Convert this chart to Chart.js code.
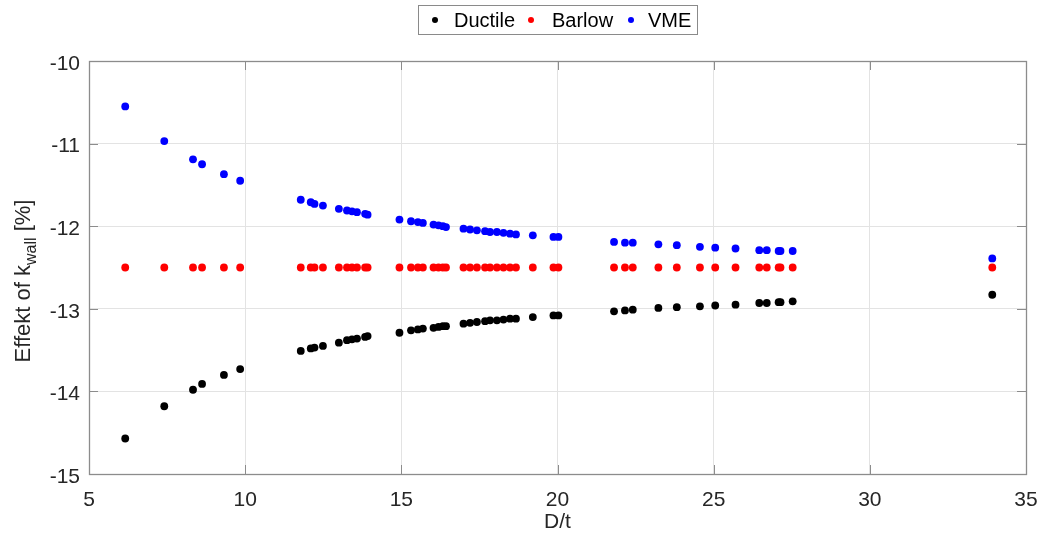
<!DOCTYPE html>
<html>
<head>
<meta charset="utf-8">
<script src="https://cdn.jsdelivr.net/npm/chart.js@4.4.0/dist/chart.umd.min.js"></script>
<style>
  html, body { margin: 0; padding: 0; background: #fff; }
  #wrap { width: 1043px; height: 540px; }
</style>
</head>
<body>
<div id="wrap"><canvas id="myChart" width="1043" height="540"></canvas></div>
<script>
// D/t values, shared by all three series
const dt = [6.16, 7.41, 8.33, 8.62, 9.32, 9.84,
  11.78, 12.10, 12.22, 12.49, 13.00, 13.26, 13.42, 13.58, 13.84, 13.92,
  14.94, 15.31, 15.53, 15.69, 16.03, 16.19, 16.33, 16.43,
  16.99, 17.20, 17.42, 17.68, 17.84, 18.06, 18.27, 18.48, 18.67,
  19.21, 19.87, 20.03, 21.81, 22.16, 22.41, 23.23, 23.82, 24.56, 25.05, 25.70,
  26.46, 26.70, 27.08, 27.14, 27.53, 33.92];

const ductile = [-14.57, -14.18, -13.98, -13.91, -13.80, -13.73,
  -13.51, -13.48, -13.47, -13.45, -13.41, -13.38, -13.37, -13.36, -13.34, -13.33,
  -13.29, -13.26, -13.25, -13.24, -13.23, -13.22, -13.21, -13.21,
  -13.18, -13.17, -13.16, -13.15, -13.14, -13.14, -13.13, -13.12, -13.12,
  -13.10, -13.08, -13.08, -13.03, -13.02, -13.01, -12.99, -12.98, -12.97, -12.96, -12.95,
  -12.93, -12.93, -12.92, -12.92, -12.91, -12.83];

const barlow = [-12.5, -12.5, -12.5, -12.5, -12.5, -12.5,
  -12.5, -12.5, -12.5, -12.5, -12.5, -12.5, -12.5, -12.5, -12.5, -12.5,
  -12.5, -12.5, -12.5, -12.5, -12.5, -12.5, -12.5, -12.5,
  -12.5, -12.5, -12.5, -12.5, -12.5, -12.5, -12.5, -12.5, -12.5,
  -12.5, -12.5, -12.5, -12.5, -12.5, -12.5, -12.5, -12.5, -12.5, -12.5, -12.5,
  -12.5, -12.5, -12.5, -12.5, -12.5, -12.5];

const vme = [-10.55, -10.97, -11.19, -11.25, -11.37, -11.45,
  -11.68, -11.71, -11.73, -11.75, -11.79, -11.81, -11.82, -11.83, -11.85, -11.86,
  -11.92, -11.94, -11.95, -11.96, -11.98, -11.99, -12.00, -12.01,
  -12.03, -12.04, -12.05, -12.06, -12.07, -12.07, -12.08, -12.09, -12.10,
  -12.11, -12.13, -12.13, -12.19, -12.20, -12.20, -12.22, -12.23, -12.25, -12.26, -12.27,
  -12.29, -12.29, -12.30, -12.30, -12.30, -12.39];

const seriesNames = ['Ductile', 'Barlow', 'VME'];
const seriesColors = ['#000000', '#ff0000', '#0000ff'];
const xTicks = [5, 10, 15, 20, 25, 30, 35];
const yTicks = [-15, -14, -13, -12, -11, -10];

const FONT = '"Liberation Sans", Arial, Helvetica, sans-serif';
const BOX = '#8c8c8c';

const toPoints = (ys) => ys.map((y, i) => ({ x: dt[i], y: y }));

// box, inside ticks, axis titles and boxed legend (MATLAB look)
const matlabLook = {
  id: 'matlabLook',
  afterDraw(chart) {
    const ctx = chart.ctx;
    const a = chart.chartArea;
    const xs = chart.scales.x, ys = chart.scales.y;
    ctx.save();
    ctx.strokeStyle = BOX;
    ctx.lineWidth = 1;
    ctx.beginPath();
    xTicks.forEach(v => {
      const px = Math.round(xs.getPixelForValue(v)) + 0.5;
      ctx.moveTo(px, a.bottom); ctx.lineTo(px, a.bottom - 9);
      ctx.moveTo(px, a.top); ctx.lineTo(px, a.top + 9);
    });
    yTicks.forEach(v => {
      const py = Math.round(ys.getPixelForValue(v)) + 0.5;
      ctx.moveTo(a.left, py); ctx.lineTo(a.left + 9, py);
      ctx.moveTo(a.right, py); ctx.lineTo(a.right - 9, py);
    });
    ctx.stroke();
    ctx.lineWidth = 1.3;
    ctx.strokeRect(Math.round(a.left) + 0.5, Math.round(a.top) + 0.5,
      Math.round(a.right - a.left), Math.round(a.bottom - a.top));

    // x title
    ctx.fillStyle = '#262626';
    ctx.font = '21px ' + FONT;
    ctx.textAlign = 'center';
    ctx.textBaseline = 'middle';
    ctx.fillText('D/t', (a.left + a.right) / 2, 522);

    // y title with subscript
    ctx.translate(22, 281);
    ctx.rotate(-Math.PI / 2);
    ctx.textAlign = 'left';
    ctx.textBaseline = 'alphabetic';
    const mainF = '22px ' + FONT, subF = '16px ' + FONT;
    ctx.font = mainF; const w1 = ctx.measureText('Effekt of k').width;
    ctx.font = subF; const w2 = ctx.measureText('wall').width;
    ctx.font = mainF; const w3 = ctx.measureText(' [%]').width;
    let x0 = -(w1 + w2 + w3) / 2;
    const base = 8;
    ctx.font = mainF; ctx.fillText('Effekt of k', x0, base); x0 += w1;
    ctx.font = subF; ctx.fillText('wall', x0, base + 6); x0 += w2;
    ctx.font = mainF; ctx.fillText(' [%]', x0, base);
    ctx.restore();

    // legend
    ctx.save();
    ctx.fillStyle = '#ffffff';
    ctx.fillRect(418, 5, 279, 29);
    ctx.strokeStyle = '#8a8a8a';
    ctx.lineWidth = 1;
    ctx.strokeRect(418.5, 5.5, 279, 29);
    const dotX = [435, 531, 631];
    const txtX = [454, 552, 648];
    ctx.font = '20px ' + FONT;
    ctx.textAlign = 'left';
    ctx.textBaseline = 'middle';
    seriesNames.forEach((name, i) => {
      ctx.fillStyle = seriesColors[i];
      ctx.beginPath();
      ctx.arc(dotX[i], 20, 3, 0, Math.PI * 2);
      ctx.fill();
      ctx.fillStyle = '#000000';
      ctx.fillText(name, txtX[i], 21);
    });
    ctx.restore();
  }
};

const ctx = document.getElementById('myChart').getContext('2d');
new Chart(ctx, {
  type: 'scatter',
  data: {
    datasets: [
      { label: seriesNames[0], data: toPoints(ductile), backgroundColor: seriesColors[0] },
      { label: seriesNames[1], data: toPoints(barlow), backgroundColor: seriesColors[1] },
      { label: seriesNames[2], data: toPoints(vme), backgroundColor: seriesColors[2] },
    ],
  },
  options: {
    responsive: false,
    animation: false,
    devicePixelRatio: 1,
    layout: { padding: { top: 61, right: 17, left: 0, bottom: 0 } },
    elements: { point: { radius: 3.9, borderWidth: 0, hoverRadius: 3.9 } },
    plugins: { legend: { display: false }, tooltip: { enabled: false } },
    scales: {
      x: {
        type: 'linear', min: 5, max: 35,
        afterBuildTicks: (s) => { s.ticks = xTicks.map(v => ({ value: v })); },
        afterFit: (s) => { s.height = 66; s.paddingLeft = 0; s.paddingRight = 0; },
        grid: { color: '#e3e3e3', drawTicks: false },
        border: { display: false },
        ticks: { padding: 14, color: '#262626', font: { family: FONT, size: 21 } },
      },
      y: {
        type: 'linear', min: -15, max: -10,
        afterBuildTicks: (s) => { s.ticks = yTicks.map(v => ({ value: v })); },
        afterFit: (s) => { s.width = 89; s.paddingTop = 0; s.paddingBottom = 0; },
        grid: { color: '#e3e3e3', drawTicks: false },
        border: { display: false },
        ticks: { padding: 9, labelOffset: 3, color: '#262626', font: { family: FONT, size: 21 } },
      },
    },
  },
  plugins: [matlabLook],
});
</script>
</body>
</html>
